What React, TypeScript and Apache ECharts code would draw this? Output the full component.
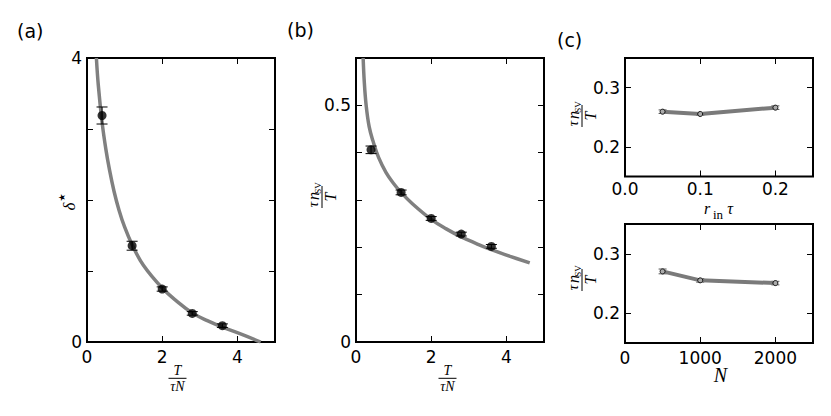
import React, { useEffect, useRef } from 'react';
import * as echarts from 'echarts';

// ---------- data ----------
// panel (a): delta* versus T/(tau N)
const A_X = [0.4, 1.2, 2.0, 2.8, 3.6];
const A_Y = [3.19, 1.356, 0.746, 0.403, 0.23];
const A_ERR = [0.12, 0.063, 0.03, 0.025, 0.025];
const A_CURVE_X = [0.25, 0.3, 0.4, 0.5, 0.6, 0.72, 0.85, 1.0, 1.2, 1.5, 2.0, 2.4, 2.8, 3.2, 3.6, 4.1, 4.62];
const A_CURVE_Y = [4.0, 3.62, 3.1, 2.72, 2.42, 2.12, 1.86, 1.62, 1.37, 1.08, 0.76, 0.57, 0.41, 0.3, 0.21, 0.11, 0.0];

// panel (b): tau n_SV / T versus T/(tau N)
const B_X = [0.4, 1.2, 2.0, 2.8, 3.6];
const B_Y = [0.406, 0.316, 0.261, 0.228, 0.202];
const B_ERR = [0.008, 0.005, 0.004, 0.004, 0.004];
const B_CURVE_X = [0.19, 0.22, 0.27, 0.35, 0.45, 0.6, 0.8, 1.0, 1.2, 1.5, 2.0, 2.4, 2.8, 3.2, 3.6, 4.1, 4.62];
const B_CURVE_Y = [0.6, 0.55, 0.5, 0.455, 0.425, 0.39, 0.358, 0.335, 0.316, 0.292, 0.259, 0.239, 0.222, 0.208, 0.195, 0.181, 0.167];

// panel (c) top: versus r_in tau
const C1_X = [0.05, 0.1, 0.2];
const C1_Y = [0.2594, 0.2555, 0.2662];
const C1_ERR = [0.003, 0.002, 0.003];

// panel (c) bottom: versus N
const C2_X = [500, 1000, 2000];
const C2_Y = [0.2703, 0.2553, 0.2507];
const C2_ERR = [0.004, 0.003, 0.003];

// ticks
const A_XTICKS = [0, 2, 4];
const A_YTICKS = [0, 1, 2, 3, 4];
const A_YLABELS = [0, 4];
const B_XTICKS = [0, 2, 4];
const B_YTICKS = [0, 0.1, 0.2, 0.3, 0.4, 0.5];
const B_YLABELS = [0, 0.5];
const C1_XTICKS = [0, 0.1, 0.2];
const C2_XTICKS = [0, 1000, 2000];
const C_YTICKS = [0.2, 0.3];

const SANS = '"DejaVu Sans", sans-serif';
const SERIF = '"Liberation Serif", "DejaVu Serif", serif';

const GRIDS = [
  { left: 87, top: 58, width: 188, height: 284 },
  { left: 356, top: 58, width: 188, height: 284 },
  { left: 625, top: 58, width: 188, height: 118.5 },
  { left: 625, top: 224, width: 188, height: 119 },
];

function axisPair(kind: 'x' | 'y', grid: number, min: number, max: number, ticks: number[], labels: number[], fmt: (v: number) => string, margin?: number) {
  const mk = () => ({
    type: 'value',
    gridIndex: grid,
    min,
    max,
    axisLine: { show: false, onZero: false },
    splitLine: { show: false },
    axisTick: { show: true, inside: true, length: 6, customValues: ticks, lineStyle: { color: '#000', width: 1 } },
  });
  const main = {
    ...mk(),
    position: kind === 'x' ? 'bottom' : 'left',
    axisLabel: {
      show: true,
      customValues: labels,
      formatter: fmt,
      fontFamily: SANS,
      fontSize: 17,
      color: '#000',
      margin: margin ?? (kind === 'x' ? 6 : 5),
    },
  };
  const other = { ...mk(), position: kind === 'x' ? 'top' : 'right', axisLabel: { show: false } };
  return [main, other];
}

function errSeries(idx: number, xs: number[], ys: number[], es: number[], half: number, color: string) {
  return {
    type: 'custom',
    xAxisIndex: idx * 2,
    yAxisIndex: idx * 2,
    z: 3,
    data: xs.map((x, i) => [x, ys[i], es[i]]),
    encode: { x: 0, y: 1 },
    renderItem: (_p: any, api: any) => {
      const x = api.value(0);
      const y = api.value(1);
      const e = api.value(2);
      const a = api.coord([x, y + e]);
      const b = api.coord([x, y - e]);
      const st = { stroke: color, lineWidth: 1 };
      return {
        type: 'group',
        children: [
          { type: 'line', shape: { x1: a[0], y1: a[1], x2: b[0], y2: b[1] }, style: st },
          { type: 'line', shape: { x1: a[0] - half, y1: a[1], x2: a[0] + half, y2: a[1] }, style: st },
          { type: 'line', shape: { x1: b[0] - half, y1: b[1], x2: b[0] + half, y2: b[1] }, style: st },
        ],
      };
    },
  };
}

function glyph(text: string, x: number, baseline: number, size: number, italic: boolean, family = SERIF) {
  return {
    type: 'text',
    x,
    y: baseline - 0.34 * size,
    style: {
      text,
      fontFamily: family,
      fontSize: size,
      lineHeight: Math.round(size * 0.75),
      fontStyle: italic ? 'italic' : 'normal',
      fill: '#000',
      align: 'center',
      verticalAlign: 'middle',
      textAlign: 'center',
      textVerticalAlign: 'middle',
    },
  };
}

function xFraction(cx: number, ly: number) {
  return {
    type: 'group',
    x: cx,
    y: ly,
    children: [
      glyph('T', 0, -3.3, 14, true),
      { type: 'line', shape: { x1: -9, y1: 0, x2: 9, y2: 0 }, style: { stroke: '#000', lineWidth: 1 } },
      glyph('τN', 0, 13.2, 14, true),
    ],
  };
}

function yFraction(cx: number, cy: number) {
  return {
    type: 'group',
    x: cx,
    y: cy,
    rotation: Math.PI / 2,
    children: [
      { type: 'line', shape: { x1: -11, y1: 0, x2: 11, y2: 0 }, style: { stroke: '#000', lineWidth: 1 } },
      glyph('τ', -7.5, -3.5, 15, true),
      glyph('n', 1, -3.5, 16, true),
      glyph('SV', 9, -1, 9, false),
      glyph('T', 0, 13.5, 16, true),
    ],
  };
}

function panelLabel(text: string, x: number, y: number) {
  return {
    type: 'text',
    x,
    y,
    style: { text, fontFamily: SANS, fontSize: 19, fill: '#000', align: 'left', verticalAlign: 'middle', textAlign: 'left', textVerticalAlign: 'middle' },
  };
}

export default function App() {
  const ref = useRef<HTMLDivElement>(null);
  useEffect(() => {
    if (!ref.current) return;
    const chart = echarts.init(ref.current, null, { renderer: 'svg' });

    const xAxes = [
      ...axisPair('x', 0, 0, 5, A_XTICKS, A_XTICKS, (v) => String(v)),
      ...axisPair('x', 1, 0, 5, B_XTICKS, B_XTICKS, (v) => String(v)),
      ...axisPair('x', 2, 0, 0.25, C1_XTICKS, C1_XTICKS, (v) => v.toFixed(1), 4),
      ...axisPair('x', 3, 0, 2500, C2_XTICKS, C2_XTICKS, (v) => String(v)),
    ];
    const yAxes = [
      ...axisPair('y', 0, 0, 4, A_YTICKS, A_YLABELS, (v) => String(v)),
      ...axisPair('y', 1, 0, 0.6, B_YTICKS, B_YLABELS, (v) => String(v)),
      ...axisPair('y', 2, 0.15, 0.35, C_YTICKS, C_YTICKS, (v) => v.toFixed(1)),
      ...axisPair('y', 3, 0.15, 0.35, C_YTICKS, C_YTICKS, (v) => v.toFixed(1)),
    ];

    const curve = (idx: number, xs: number[], ys: number[]) => ({
      type: 'line',
      xAxisIndex: idx * 2,
      yAxisIndex: idx * 2,
      data: xs.map((x, i) => [x, ys[i]]),
      smooth: 0.4,
      showSymbol: false,
      symbol: 'none',
      clip: true,
      z: 2,
      lineStyle: { color: '#808080', width: 3.5 },
    });
    const dots = (idx: number, xs: number[], ys: number[]) => ({
      type: 'scatter',
      xAxisIndex: idx * 2,
      yAxisIndex: idx * 2,
      data: xs.map((x, i) => [x, ys[i]]),
      symbol: 'circle',
      symbolSize: 9,
      z: 4,
      itemStyle: { color: '#000' },
    });
    const connected = (idx: number, xs: number[], ys: number[]) => ({
      type: 'line',
      xAxisIndex: idx * 2,
      yAxisIndex: idx * 2,
      data: xs.map((x, i) => [x, ys[i]]),
      showSymbol: true,
      symbol: 'circle',
      symbolSize: 5,
      z: 4,
      lineStyle: { color: '#7a7a7a', width: 4 },
      itemStyle: { color: '#aaaaaa', borderColor: '#111', borderWidth: 1 },
    });

    chart.setOption({
      animation: false,
      grid: GRIDS.map((g) => ({ ...g, show: true, borderColor: '#000', borderWidth: 2, containLabel: false })),
      xAxis: xAxes,
      yAxis: yAxes,
      series: [
        curve(0, A_CURVE_X, A_CURVE_Y),
        errSeries(0, A_X, A_Y, A_ERR, 5.5, '#000'),
        dots(0, A_X, A_Y),
        curve(1, B_CURVE_X, B_CURVE_Y),
        errSeries(1, B_X, B_Y, B_ERR, 5.5, '#000'),
        dots(1, B_X, B_Y),
        errSeries(2, C1_X, C1_Y, C1_ERR, 4, '#555'),
        connected(2, C1_X, C1_Y),
        errSeries(3, C2_X, C2_Y, C2_ERR, 4, '#555'),
        connected(3, C2_X, C2_Y),
      ],
      graphic: [
        panelLabel('(a)', 17, 31),
        panelLabel('(b)', 287, 30),
        panelLabel('(c)', 557, 40),
        // (a) y label: delta star
        {
          type: 'group',
          x: 70,
          y: 203,
          rotation: Math.PI / 2,
          children: [
            glyph('δ', -3.5, 5, 17, true),
            {
              type: 'text',
              x: 5.5,
              y: -8.5,
              style: { text: '★', fontFamily: SANS, fontSize: 9, lineHeight: 7, fill: '#000', align: 'center', verticalAlign: 'middle', textAlign: 'center', textVerticalAlign: 'middle' },
            },
          ],
        },
        xFraction(177.5, 378.3),
        xFraction(447.5, 378.3),
        yFraction(322, 197),
        yFraction(582, 116),
        yFraction(582, 280),
        // (c) top x label: r_in tau
        glyph('r', 707, 214, 16, true),
        glyph('in', 718, 218.5, 13, false),
        glyph('τ', 730, 214, 16, true),
        // (c) bottom x label: N
        glyph('N', 720.5, 382, 20, true),
      ],
    });
    return () => chart.dispose();
  }, []);
  return <div ref={ref} style={{ position: 'absolute', left: 0, top: 0, width: 831, height: 416 }} />;
}
